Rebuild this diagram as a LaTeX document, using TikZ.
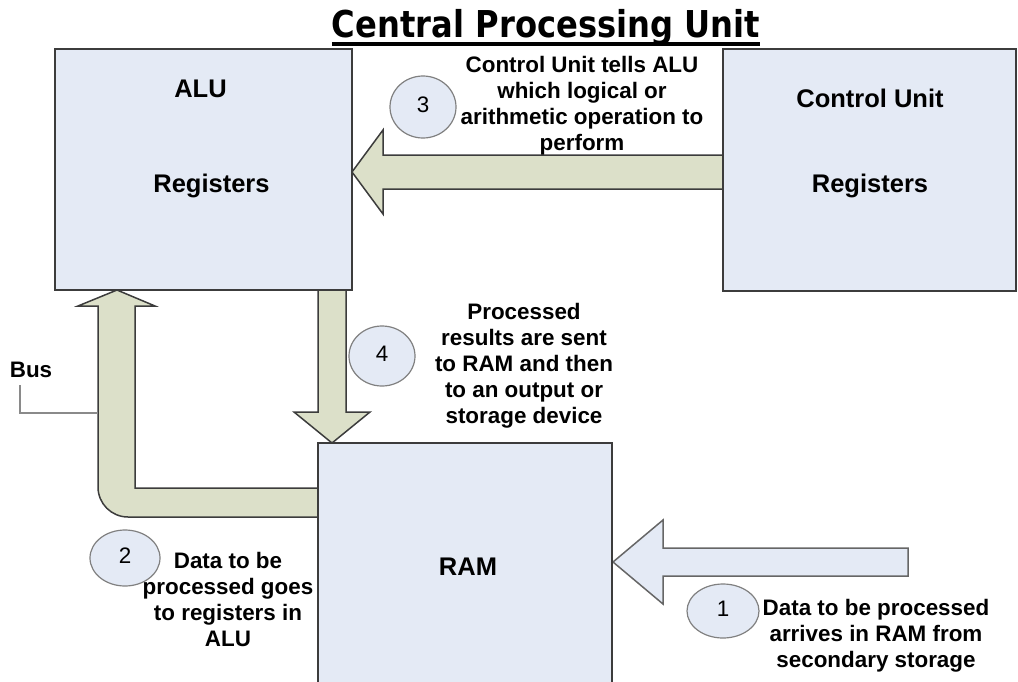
\documentclass[tikz,border=0pt]{standalone}
\usepackage{fontspec}
\usepackage{graphicx}
\setmainfont{Liberation Sans}
\newfontfamily\titlefont{DejaVu Sans}
\usetikzlibrary{shapes.geometric,calc}

\definecolor{boxfill}{HTML}{E4EAF5}
\definecolor{arrowfill}{HTML}{DCE0C9}
\definecolor{edge}{HTML}{3C3C3C}
\definecolor{ringedge}{HTML}{808080}
\definecolor{pointer}{HTML}{8A8A8A}

\tikzset{
  unitbox/.style={rectangle, draw=edge, line width=2pt, fill=boxfill, inner sep=0pt},
  lab/.style={font=\fontsize{22.4}{26}\selectfont\bfseries, align=center, inner sep=0pt},
  unitlab/.style={font=\fontsize{25.5}{28}\selectfont\bfseries, inner sep=0pt, anchor=base},
  stepmark/.style={ellipse, draw=ringedge, line width=1.2pt, fill=boxfill,
    font=\fontsize{22.4}{26}\selectfont, inner sep=0pt, text depth=4pt},
  blockarrow/.style={draw=edge, line width=1.5pt, fill=arrowfill, line join=miter},
  inarrow/.style={draw=ringedge!80!black, line width=1.5pt, fill=boxfill, line join=miter},
  buspointer/.style={draw=pointer, line width=1.2pt},
}

\begin{document}
\begin{tikzpicture}[x=1pt, y=-1pt]
\useasboundingbox (0,0) rectangle (1018,681);
\clip (0,0) rectangle (1018,681);

% block arrows (drawn first so the unit boxes sit on top of their ends)
% step 3: control unit -> ALU
\draw[blockarrow] (725,155) -- (383,155) -- (383,130) -- (352,172) -- (383,214)
  -- (383,189) -- (725,189) -- cycle;
% step 4: ALU -> RAM
\draw[blockarrow] (318,288) -- (318,412) -- (294,412) -- (332,443) -- (370,412)
  -- (346,412) -- (346,288) -- cycle;
% step 2: the bus from RAM up to the ALU
\draw[blockarrow] (320,488) -- (135,488) -- (135,306) -- (155,306) -- (117,290)
  -- (78,306) -- (98,306) -- (98,487)
  .. controls (98,503.6) and (111.4,517) .. (128,517) -- (320,517) -- cycle;
% step 1: secondary storage -> RAM
\draw[inarrow] (908,548) -- (663,548) -- (663,520) -- (613,562) -- (663,604)
  -- (663,576) -- (908,576) -- cycle;

% units
\node[unitbox, minimum width=297pt, minimum height=241pt] (alu) at (203.5,169.5) {};
\node[unitbox, minimum width=293pt, minimum height=242pt] (cu) at (869.5,170) {};
\node[unitbox, minimum width=294pt, minimum height=277pt] (ram) at (465,581.5) {};

% title
\node[anchor=base, inner sep=0pt] (title) at (546,37)
  {\scalebox{0.87}[1]{\titlefont\bfseries\fontsize{37}{40}\selectfont Central Processing Unit}};
\draw[line width=3.5pt] ([yshift=-7pt]title.base west) -- ([yshift=-7pt]title.base east);

% unit labels
\node[unitlab] (alutitle) at (200.5,97) {ALU};
\node[unitlab] (alureg) at (211.5,192.5) {Registers};
\node[unitlab] (cutitle) at (870,107) {Control Unit};
\node[unitlab] (cureg) at (870,192.5) {Registers};
\node[unitlab] (ramtitle) at (468,575) {RAM};

% bus label and its pointer
\node[lab, anchor=base] (bus) at (31,377) {Bus};
\coordinate (busfoot) at (98,413);
\draw[buspointer] ($(bus.south)+(-11,8)$) |- (busfoot);

% step markers
\node[stepmark, minimum width=66pt, minimum height=62pt] (s3) at (423,107) {3};
\node[stepmark, minimum width=66pt, minimum height=60pt] (s4) at (382,356) {4};
\node[stepmark, minimum width=72pt, minimum height=54pt] (s1) at (723,611) {1};
\node[stepmark, minimum width=70pt, minimum height=56pt] (s2) at (125,558) {2};

% step descriptions
\node[lab, anchor=north] (t3) at (582,55.7)
  {Control Unit tells ALU\\which logical or\\arithmetic operation to\\perform};
\node[lab, anchor=north] (t4) at (524,302.7)
  {Processed\\results are sent\\to RAM and then\\to an output or\\storage device};
\node[lab, anchor=north] (t1) at (876,598.7)
  {Data to be processed\\arrives in RAM from\\secondary storage};
\node[lab, anchor=north] (t2) at (228,551.7)
  {Data to be\\processed goes\\to registers in\\ALU};
\end{tikzpicture}
\end{document}
